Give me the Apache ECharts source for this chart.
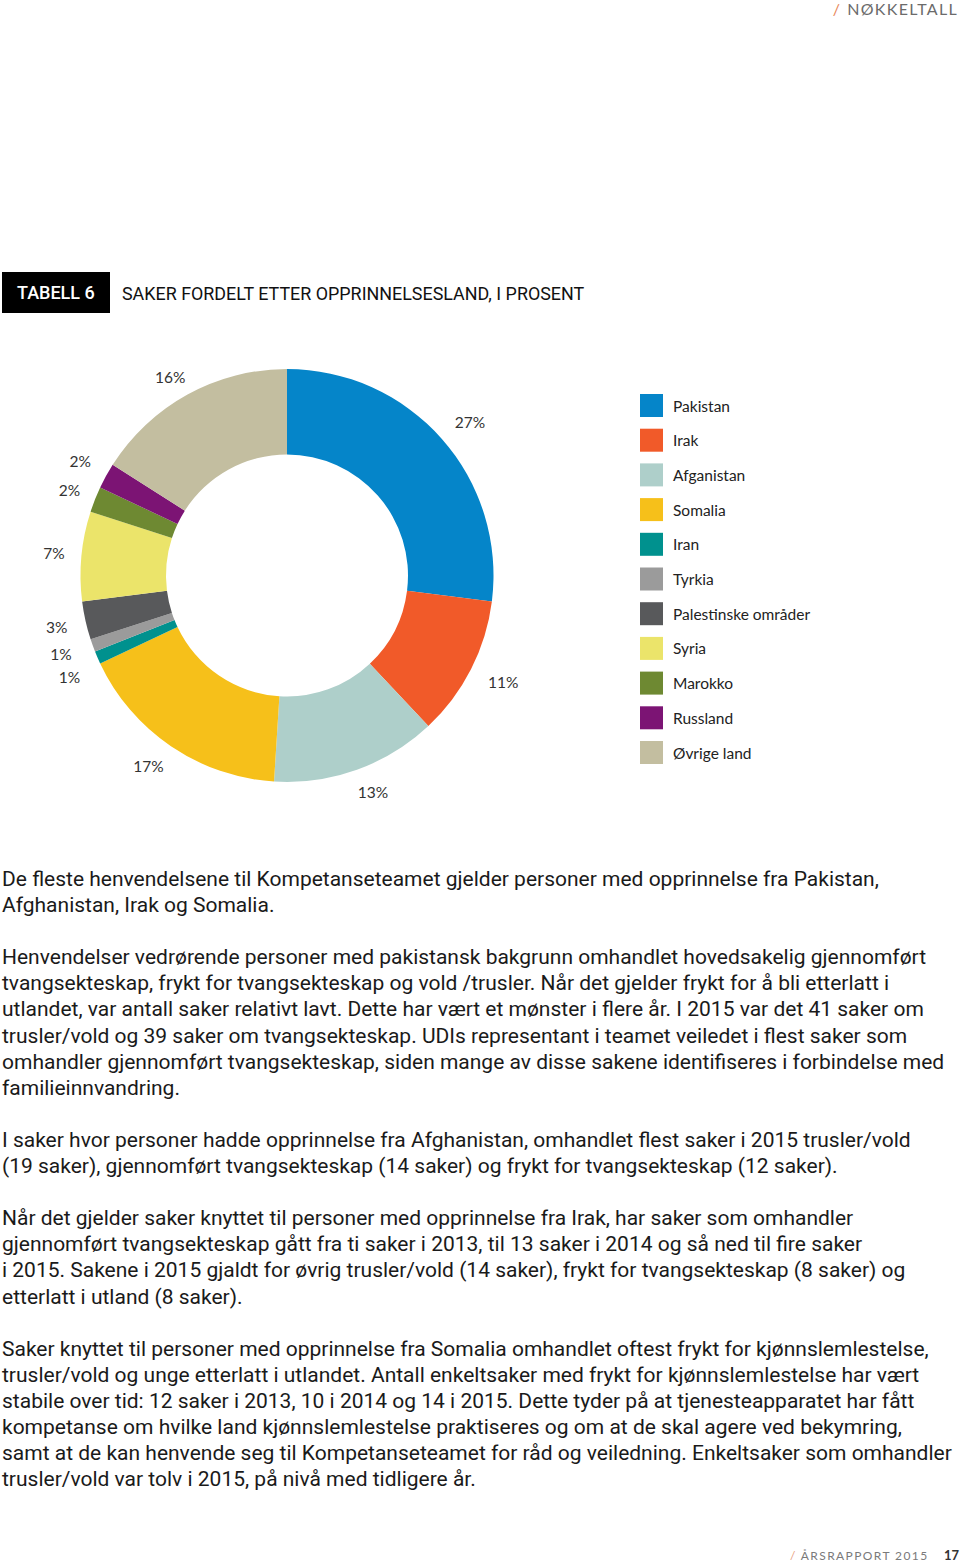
<!DOCTYPE html>
<html>
<head>
<meta charset="utf-8">
<script src="https://cdn.jsdelivr.net/npm/echarts@6/dist/echarts.min.js"></script>
<style>
  html, body { margin: 0; padding: 0; background: #fff; }
  #page { position: relative; width: 960px; height: 1566px; overflow: hidden; background: #fff; }
  #chart { position: absolute; left: 0; top: 0; width: 960px; height: 840px; }
  .top { position: absolute; right: 2px; top: 0px; font-family: Lato, sans-serif; font-size: 16px; line-height: 17px; letter-spacing: 1.3px; color: #6b6b6b; }
  .top .sl { color: #e8875a; margin-right: 6px; }
  .badge { position: absolute; left: 2px; top: 272px; width: 108px; height: 41px; background: #000; color: #fff;
           font-family: Roboto, sans-serif; font-weight: 500; font-size: 18px; line-height: 41px; text-indent: 15px; }
  .title { position: absolute; left: 122px; top: 273px; line-height: 41px; font-family: Roboto, sans-serif; font-size: 17.9px; color: #111; }
  .body { position: absolute; left: 2px; top: 866px; font-family: Roboto, sans-serif; font-size: 21px; line-height: 26.09px; color: #1a1a1a; white-space: pre; }
  .foot { position: absolute; left: 790px; top: 1548px; font-family: Lato, sans-serif; font-size: 12px; letter-spacing: 1.4px; color: #7a7a7a; }
  .foot .sl { color: #e8a080; margin-right: 4px; }
  .pg { position: absolute; left: 944px; top: 1547px; font-family: Lato, sans-serif; font-size: 13px; font-weight: 700; color: #333; }
</style>
</head>
<body>
<div id="page">
  <div class="top"><span class="sl">/</span>NØKKELTALL</div>
  <div class="badge">TABELL 6</div>
  <div class="title">SAKER FORDELT ETTER OPPRINNELSESLAND, I PROSENT</div>
  <div id="chart"></div>
  <div class="body" id="body"></div>
  <div class="foot"><span class="sl">/</span>ÅRSRAPPORT 2015</div>
  <div class="pg">17</div>
</div>
<script>
// ---- data ----
const countries = ['Pakistan', 'Irak', 'Afganistan', 'Somalia', 'Iran', 'Tyrkia',
  'Palestinske områder', 'Syria', 'Marokko', 'Russland', 'Øvrige land'];
const shares = [27, 11, 13, 17, 1, 1, 3, 7, 2, 2, 16];
const colors = ['#0585c9', '#f15a29', '#aecfca', '#f6c01a', '#00918e', '#9b9b9b',
  '#58595b', '#ebe46a', '#6e8932', '#7c1474', '#c3bea0'];

const bodyLines = [
  'De fleste henvendelsene til Kompetanseteamet gjelder personer med opprinnelse fra Pakistan,',
  'Afghanistan, Irak og Somalia.',
  '',
  'Henvendelser vedrørende personer med pakistansk bakgrunn omhandlet hovedsakelig gjennomført',
  'tvangsekteskap, frykt for tvangsekteskap og vold /trusler. Når det gjelder frykt for å bli etterlatt i',
  'utlandet, var antall saker relativt lavt. Dette har vært et mønster i flere år. I 2015 var det 41 saker om',
  'trusler/vold og 39 saker om tvangsekteskap. UDIs representant i teamet veiledet i flest saker som',
  'omhandler gjennomført tvangsekteskap, siden mange av disse sakene identifiseres i forbindelse med',
  'familieinnvandring.',
  '',
  'I saker hvor personer hadde opprinnelse fra Afghanistan, omhandlet flest saker i 2015 trusler/vold',
  '(19 saker), gjennomført tvangsekteskap (14 saker) og frykt for tvangsekteskap (12 saker).',
  '',
  'Når det gjelder saker knyttet til personer med opprinnelse fra Irak, har saker som omhandler',
  'gjennomført tvangsekteskap gått fra ti saker i 2013, til 13 saker i 2014 og så ned til fire saker',
  'i 2015. Sakene i 2015 gjaldt for øvrig trusler/vold (14 saker), frykt for tvangsekteskap (8 saker) og',
  'etterlatt i utland (8 saker).',
  '',
  'Saker knyttet til personer med opprinnelse fra Somalia omhandlet oftest frykt for kjønnslemlestelse,',
  'trusler/vold og unge etterlatt i utlandet. Antall enkeltsaker med frykt for kjønnslemlestelse har vært',
  'stabile over tid: 12 saker i 2013, 10 i 2014 og 14 i 2015. Dette tyder på at tjenesteapparatet har fått',
  'kompetanse om hvilke land kjønnslemlestelse praktiseres og om at de skal agere ved bekymring,',
  'samt at de kan henvende seg til Kompetanseteamet for råd og veiledning. Enkeltsaker som omhandler',
  'trusler/vold var tolv i 2015, på nivå med tidligere år.'
];
document.getElementById('body').textContent = bodyLines.join('\n');

// small label nudges (label styling only)
const labelNudge = {
  'Pakistan': [6, 3], 'Irak': [6, -1], 'Afganistan': [6, -6], 'Somalia': [-6, -5],
  'Iran': [-1, 8], 'Tyrkia': [-4, -1], 'Syria': [2, 0], 'Marokko': [2, 1],
  'Russland': [0, -1], 'Øvrige land': [-3, 8]
};

const pieData = countries.map((n, i) => ({ name: n, value: shares[i], itemStyle: { color: colors[i] } }));
const ghostData = countries.map((n, i) => ({ name: n, value: shares[i] }));

const chart = echarts.init(document.getElementById('chart'), null, { renderer: 'svg' });
chart.setOption({
  animation: false,
  legend: {
    orient: 'vertical',
    left: 640,
    top: 394,
    itemWidth: 23,
    itemHeight: 23,
    itemGap: 11.7,
    icon: 'rect',
    padding: 0,
    data: countries,
    selectedMode: false,
    textStyle: { fontFamily: 'Lato, sans-serif', fontSize: 15.5, color: '#222', padding: [0, 0, 0, 5] }
  },
  series: [
    {
      type: 'pie',
      center: [287, 575.5],
      radius: [121, 206.5],
      startAngle: 90,
      clockwise: true,
      label: { show: false },
      labelLine: { show: false },
      emphasis: { disabled: true },
      data: pieData
    },
    {
      type: 'pie',
      center: [287, 575.5],
      radius: [213, 253],
      startAngle: 90,
      clockwise: true,
      silent: true,
      avoidLabelOverlap: false,
      itemStyle: { color: 'rgba(0,0,0,0)' },
      label: {
        show: true,
        position: 'inside',
        formatter: '{c}%',
        fontFamily: 'Lato, sans-serif',
        fontSize: 15.5,
        color: '#333'
      },
      labelLayout: function (p) {
        const nd = labelNudge[countries[p.dataIndex]] || [0, 0];
        return { hideOverlap: false, dx: nd[0], dy: nd[1] };
      },
      labelLine: { show: false },
      emphasis: { disabled: true },
      data: ghostData
    }
  ]
});
</script>
</body>
</html>
